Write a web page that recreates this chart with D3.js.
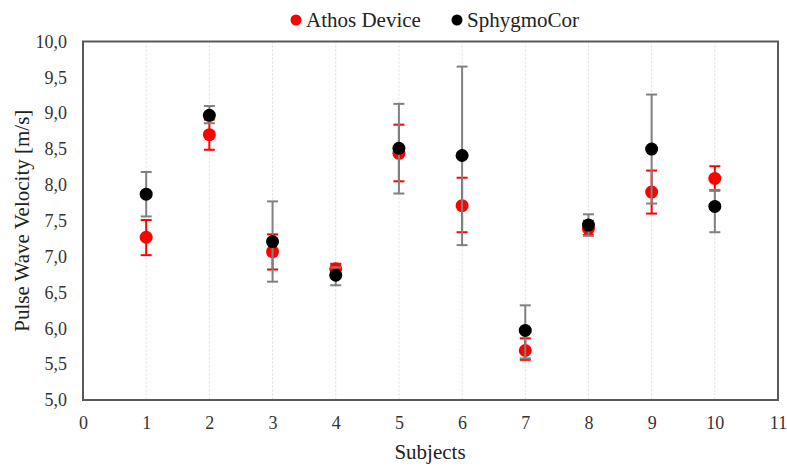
<!DOCTYPE html>
<html>
<head>
<meta charset="utf-8">
<script src="https://cdn.jsdelivr.net/npm/d3@7"></script>
<style>
  body { margin: 0; background: #fff; }
  svg { font-family: "Liberation Serif", "Times New Roman", serif; }
</style>
</head>
<body>
<svg id="chart" width="787" height="466"></svg>
<script>
// data
var subjects = [1, 2, 3, 4, 5, 6, 7, 8, 9, 10];
var athos = [7.27, 8.70, 7.07, 6.83, 8.44, 7.71, 5.69, 7.39, 7.90, 8.09];
var athosLow = [7.02, 8.49, 6.82, 6.77, 8.05, 7.34, 5.56, 7.30, 7.60, 7.92];
var athosHigh = [7.51, 8.91, 7.31, 6.90, 8.84, 8.10, 5.86, 7.50, 8.20, 8.26];
var sphygmo = [7.87, 8.97, 7.21, 6.74, 8.51, 8.41, 5.97, 7.44, 8.50, 7.70];
var sphygmoLow = [7.56, 8.86, 6.65, 6.60, 7.88, 7.16, 5.58, 7.29, 7.74, 7.34];
var sphygmoHigh = [8.18, 9.10, 7.77, 6.85, 9.13, 9.65, 6.32, 7.59, 9.26, 7.93];
var xTicks = d3.range(0, 12);
var yTicks = [5, 5.5, 6, 6.5, 7, 7.5, 8, 8.5, 9, 9.5, 10];

var series = [
  {name: "Athos Device", color: "#ff0000", bar: "#ff0000", v: athos, lo: athosLow, hi: athosHigh},
  {name: "SphygmoCor", color: "#000000", bar: "#808080", v: sphygmo, lo: sphygmoLow, hi: sphygmoHigh}
];

var svg = d3.select("#chart");
var pLeft = 83, pRight = 778, pTop = 41.5, pBottom = 400;

var x = d3.scaleLinear().domain([0, 11]).range([pLeft, pRight]);
var y = d3.scaleLinear().domain([5, 10]).range([pBottom, pTop]);

// vertical dotted gridlines
svg.append("g")
  .selectAll("line")
  .data(xTicks.slice(1, -1))
  .enter().append("line")
    .attr("x1", function(d){ return x(d) })
    .attr("x2", function(d){ return x(d) })
    .attr("y1", pTop)
    .attr("y2", pBottom)
    .attr("stroke", "#dcdcdc")
    .attr("stroke-width", 1)
    .attr("stroke-dasharray", "2,2");

// frame
svg.append("rect")
  .attr("x", pLeft)
  .attr("y", pTop)
  .attr("width", pRight - pLeft)
  .attr("height", pBottom - pTop)
  .attr("fill", "none")
  .attr("stroke", "#595959")
  .attr("stroke-width", 2);

// axes (labels only)
var xAxis = svg.append("g")
  .attr("transform", "translate(0," + pBottom + ")")
  .call(d3.axisBottom(x).tickValues(xTicks).tickSize(0).tickPadding(16));
var yAxis = svg.append("g")
  .attr("transform", "translate(" + pLeft + ",0)")
  .call(d3.axisLeft(y).tickValues(yTicks).tickSize(0).tickPadding(16)
    .tickFormat(function(d){ return d3.format(".1f")(d).replace(".", ",") }));
[xAxis, yAxis].forEach(function(a){
  a.select(".domain").remove();
  a.selectAll("text")
    .attr("font-family", "Liberation Serif, serif")
    .attr("font-size", 18)
    .attr("fill", "#333");
});

// series: error bars then markers
series.forEach(function(s){
  var g = svg.append("g");
  var eb = g.selectAll("g.err")
    .data(subjects)
    .enter().append("g");
  eb.append("line")
    .attr("x1", function(d){ return x(d) })
    .attr("x2", function(d){ return x(d) })
    .attr("y1", function(d, i){ return y(s.lo[i]) })
    .attr("y2", function(d, i){ return y(s.hi[i]) })
    .attr("stroke", s.bar)
    .attr("stroke-width", 2);
  ["lo", "hi"].forEach(function(k){
    eb.append("line")
      .attr("x1", function(d){ return x(d) - 5.5 })
      .attr("x2", function(d){ return x(d) + 5.5 })
      .attr("y1", function(d, i){ return y(s[k][i]) })
      .attr("y2", function(d, i){ return y(s[k][i]) })
      .attr("stroke", s.bar)
      .attr("stroke-width", 2);
  });
  g.selectAll("circle")
    .data(subjects)
    .enter().append("circle")
      .attr("cx", function(d){ return x(d) })
      .attr("cy", function(d, i){ return y(s.v[i]) })
      .attr("r", 6.5)
      .attr("fill", s.color);
});

// legend
var legend = svg.append("g");
var lx = [296, 457];
series.forEach(function(s, i){
  legend.append("circle")
    .attr("cx", lx[i])
    .attr("cy", 20)
    .attr("r", 5.5)
    .attr("fill", s.color);
  legend.append("text")
    .attr("x", lx[i] + 10)
    .attr("y", 27)
    .attr("font-size", 21)
    .attr("fill", "#222")
    .text(s.name);
});

// axis titles
svg.append("text")
  .attr("x", 430)
  .attr("y", 459)
  .attr("text-anchor", "middle")
  .attr("font-size", 21)
  .attr("fill", "#222")
  .text("Subjects");
svg.append("text")
  .attr("transform", "translate(29," + (pTop + pBottom) / 2 + ") rotate(-90)")
  .attr("text-anchor", "middle")
  .attr("font-size", 21)
  .attr("fill", "#222")
  .text("Pulse Wave Velocity [m/s]");
</script>
</body>
</html>
